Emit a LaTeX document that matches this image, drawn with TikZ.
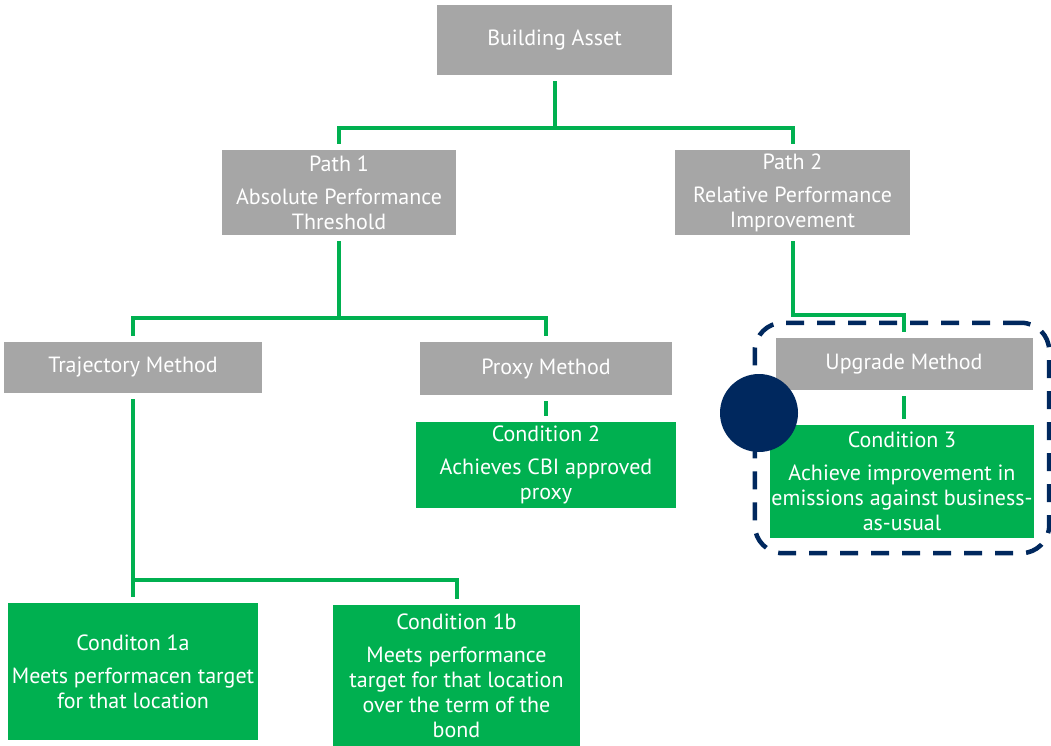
\documentclass[tikz,border=0pt]{standalone}
\usepackage{fontspec}
\setmainfont{PT Sans}
\usepackage{tikz}
\usetikzlibrary{positioning, fit}
\definecolor{boxgrey}{RGB}{166,166,166}
\definecolor{boxgreen}{RGB}{0,176,80}
\definecolor{navy}{RGB}{0,40,94}
\tikzstyle{method} = [rectangle, inner sep = 0pt, align = center, text = white, fill = boxgrey, font = \fontsize{22}{25}\selectfont]
\tikzstyle{cond} = [rectangle, inner sep = 0pt, align = center, text = white, fill = boxgreen, font = \fontsize{22}{25}\selectfont]
\tikzstyle{link} = [draw = boxgreen, line width = 4pt, shorten <=6pt, shorten >=6pt]
\tikzstyle{group} = [rectangle, draw = navy, line width = 4.5pt, dash pattern = on 18pt off 13pt, rounded corners = 28pt, inner sep = 15pt]

\begin{document}
\begin{tikzpicture}[x = 1pt, y = -1pt]
	\useasboundingbox (0,0) rectangle (1051,746);

	\node (asset)[method, minimum width = 235pt, minimum height = 70pt] at (554.5,40) {Building Asset};
	\node (path1)[method, minimum width = 234pt, minimum height = 85pt] at (339,192.5) {Path 1\\[8pt]Absolute Performance\\Threshold};
	\node (path2)[method, minimum width = 235pt, minimum height = 85pt] at (792.5,192.5) {Path 2\\[8pt]Relative Performance\\Improvement};
	\node (traj)[method, minimum width = 258pt, minimum height = 51pt] at (133,367.5) {Trajectory Method};
	\node (proxy)[method, minimum width = 252pt, minimum height = 53pt] at (546,368.5) {Proxy Method};
	\node (upgrade)[method, minimum width = 257pt, minimum height = 52pt] at (904,364) {Upgrade Method};
	\node (cond2)[cond, minimum width = 260pt, minimum height = 86pt] at (546,465) {Condition 2\\[8pt]Achieves CBI approved\\proxy};
	\node (cond3)[cond, minimum width = 264pt, minimum height = 113pt] at (902,481.5) {Condition 3\\[8pt]Achieve improvement in\\emissions against business-\\as-usual};
	\node (cond1a)[cond, minimum width = 250pt, minimum height = 137pt] at (133,671.5) {Conditon 1a\\[8pt]Meets performacen target\\for that location};
	\node (cond1b)[cond, minimum width = 247pt, minimum height = 141pt] at (456.5,675.5) {Condition 1b\\[8pt]Meets performance\\target for that location\\over the term of the\\bond};

	\draw [link] (asset.south) -- ++(0,53) -| (path1.north);
	\draw [link] (asset.south) -- ++(0,53) -| (path2.north);
	\draw [link] (path1.south) -- ++(0,83) -| (traj.north);
	\draw [link] (path1.south) -- ++(0,83) -| (proxy.north);
	\draw [link] (path2.south) -- ++(0,80) -| (upgrade.north);
	\draw [link] (proxy.south) -- (cond2.north);
	\draw [link] (upgrade.south) -- (upgrade.south |- cond3.north);
	\draw [link] (traj.south) -- ++(0,187) -| (cond1a.north);
	\draw [link] (traj.south) -- ++(0,187) -| (cond1b.north);

	\node (box3)[group, fit = (upgrade)(cond3)] {};
	\node (badge)[circle, fill = navy, minimum size = 78pt, inner sep = 0pt] at (759,413) {};
\end{tikzpicture}
\end{document}
